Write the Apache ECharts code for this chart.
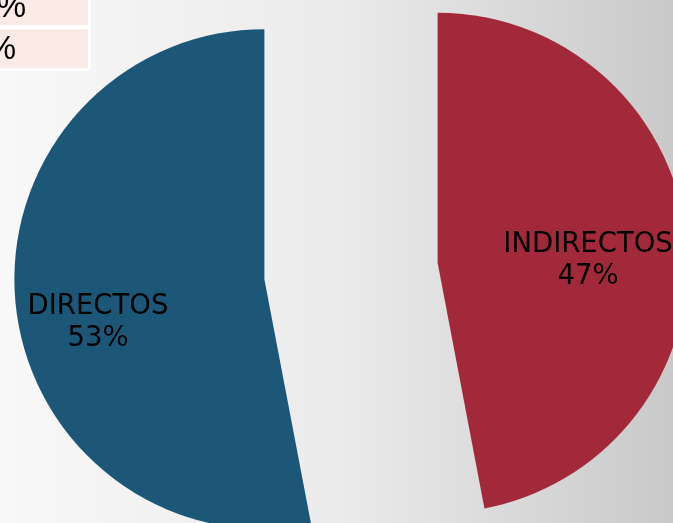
<!DOCTYPE html>
<html>
<head>
<meta charset="utf-8">
<script src="https://cdn.jsdelivr.net/npm/echarts@6/dist/echarts.min.js"></script>
<style>
html,body{margin:0;padding:0;}
#chart{width:673px;height:523px;}
</style>
</head>
<body>
<div id="chart"></div>
<script>
// Data
const categories = ['INDIRECTOS', 'DIRECTOS'];
const values = [47, 53];
const sliceColors = ['#A2293A', '#1D5778'];
const tableTexts = ['53%', '47%'];
// label nudges (dx, dy) relative to default inside position
const labelNudge = [[23, 10], [-39, 32]];

const chart = echarts.init(document.getElementById('chart'), null, {renderer: 'canvas'});
chart.setOption({
  animation: false,
  backgroundColor: {
    type: 'linear', x: 0, y: 0, x2: 1, y2: 0,
    colorStops: [
      {offset: 0, color: '#f8f8f8'},
      {offset: 0.5, color: '#ebebeb'},
      {offset: 1, color: '#c9c9c9'}
    ]
  },
  graphic: [
    {type: 'rect', left: 0, top: -3, shape: {width: 91, height: 31}, style: {fill: '#ffffff'}, silent: true},
    {type: 'rect', left: 0, top: 0, shape: {width: 88, height: 25}, style: {fill: '#FBEBE7'}, silent: true},
    {type: 'rect', left: 0, top: 26, shape: {width: 91, height: 45}, style: {fill: '#ffffff'}, silent: true},
    {type: 'rect', left: 0, top: 29, shape: {width: 88, height: 39}, style: {fill: '#FBEBE7'}, silent: true},
    {type: 'text', x: 26, y: 8, silent: true,
      style: {text: tableTexts[0], fill: '#000', font: '33px "Liberation Sans"', align: 'right', verticalAlign: 'middle'}},
    {type: 'text', x: 16, y: 50, silent: true,
      style: {text: tableTexts[1], fill: '#000', font: '33px "Liberation Sans"', align: 'right', verticalAlign: 'middle'}}
  ],
  series: [{
    type: 'pie',
    center: [351, 271],
    radius: 250,
    startAngle: 90,
    clockwise: true,
    selectedMode: 'multiple',
    selectedOffset: 87,
    avoidLabelOverlap: false,
    emphasis: {disabled: true},
    label: {
      show: true,
      position: 'inside',
      formatter: '{b}\n{d}%',
      color: '#000',
      fontFamily: 'DejaVu Sans',
      fontSize: 27.5,
      lineHeight: 32,
      align: 'center'
    },
    labelLine: {show: false},
    labelLayout: function (p) {
      const n = labelNudge[p.dataIndex];
      return {dx: n[0], dy: n[1]};
    },
    data: categories.map((c, i) => ({
      name: c,
      value: values[i],
      selected: true,
      itemStyle: {color: sliceColors[i], borderWidth: 0},
      select: {itemStyle: {color: sliceColors[i], borderWidth: 0}}
    }))
  }]
});
</script>
</body>
</html>
